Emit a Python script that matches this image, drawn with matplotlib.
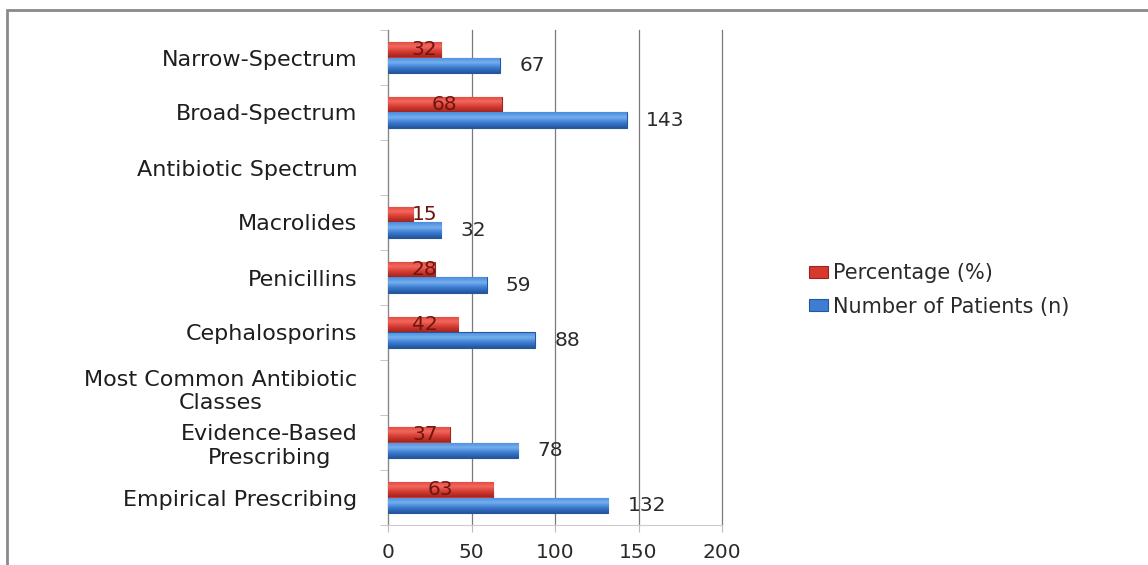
import matplotlib
matplotlib.use('Agg')
import matplotlib.pyplot as plt
import matplotlib.patches as mpatches
from matplotlib.colors import LinearSegmentedColormap
import numpy as np

# Chart data (bottom to top, as drawn)
categories = ['Empirical Prescribing', 'Evidence-Based\nPrescribing',
              'Most Common Antibiotic\nClasses', 'Cephalosporins', 'Penicillins',
              'Macrolides', 'Antibiotic Spectrum', 'Broad-Spectrum', 'Narrow-Spectrum']
percentage = [63, 37, np.nan, 42, 28, 15, np.nan, 68, 32]
patients = [132, 78, np.nan, 88, 59, 32, np.nan, 143, 67]
xticks = [0, 50, 100, 150, 200]

txt = '#2a2a2a'

plt.rcParams['font.family'] = 'DejaVu Sans'

fig = plt.figure(figsize=(11.48, 5.65), dpi=100)
ax = fig.add_axes([388 / 1148, 1 - 525 / 565, (722 - 388) / 1148, (525 - 30) / 565])

y = np.arange(len(categories))
h = 0.28
red_bars = ax.barh(y + h / 2, percentage, height=h, color='#D8382F', edgecolor='#9C2520',
                   linewidth=0.8, label='Percentage (%)', zorder=3)
blue_bars = ax.barh(y - h / 2, patients, height=h, color='#3D7ED3', edgecolor='#25589A',
                    linewidth=0.8, label='Number of Patients (n)', zorder=3)

# Excel-like shaded bars: vertical gradient clipped to each bar
red_cm = LinearSegmentedColormap.from_list('r', ['#9E2620', '#D43A30', '#F2675C', '#E0483E'])
blue_cm = LinearSegmentedColormap.from_list('b', ['#24549A', '#3A7BD0', '#74AEEE', '#4A8BDC'])
grad = np.linspace(0, 1, 64).reshape(-1, 1)
for bars, cm in ((red_bars, red_cm), (blue_bars, blue_cm)):
    for b in bars:
        w = b.get_width()
        if np.isnan(w):
            continue
        y0 = b.get_y()
        im = ax.imshow(grad, cmap=cm, aspect='auto', origin='lower',
                       extent=(0, w, y0, y0 + b.get_height()), zorder=3.5)
        im.set_clip_path(b)

# value labels
for yi, p, n in zip(y, percentage, patients):
    if not np.isnan(p):
        ax.text(max(p / 2, 22), yi + h / 2, f'{p:g}', ha='center', va='center',
                fontsize=14.5, color='#6E1510', zorder=5)
    if not np.isnan(n):
        ax.annotate(f'{n:g}', (n, yi - h / 2), xytext=(14, 0), textcoords='offset points',
                    ha='left', va='center', fontsize=14.5, color=txt, zorder=5)

ax.set_xlim(0, 200)
ax.set_ylim(-0.5, len(categories) - 0.5)
ax.set_xticks(xticks)
ax.set_xticklabels([str(t) for t in xticks], fontsize=14.5, color=txt)
ax.set_yticks(y)
ax.set_yticklabels(categories, fontsize=16, color='#1e1e1e', multialignment='center')
ax.set_yticks(np.arange(-0.5, len(categories), 1), minor=True)
ax.tick_params(axis='y', which='major', length=0, pad=22)
ax.tick_params(axis='y', which='minor', length=6, color='#bbbbbb')
ax.tick_params(axis='x', length=5, color='#bbbbbb', pad=8)

ax.grid(axis='x', color='#7a7a7a', linewidth=0.9, zorder=0)
for gl in ax.get_xgridlines():
    gl.set_clip_on(False)
ax.spines['top'].set_visible(False)
ax.spines['right'].set_visible(False)
ax.spines['left'].set_color('#888888')
ax.spines['bottom'].set_color('#cccccc')

fig.legend(loc='center left', bbox_to_anchor=(790 / 1148, 1 - 290 / 565), frameon=False,
           fontsize=15, handlelength=0.9, handleheight=0.5, handletextpad=0.25,
           labelspacing=0.65, labelcolor=txt)

# outer chart frame
fig.add_artist(mpatches.Rectangle((7 / 1148, -0.1), 1.2, 1 - 10 / 565 + 0.1,
                                  transform=fig.transFigure, fill=False,
                                  edgecolor='#8a8a8a', linewidth=2, clip_on=False))

fig.savefig('out.png', dpi=100)
